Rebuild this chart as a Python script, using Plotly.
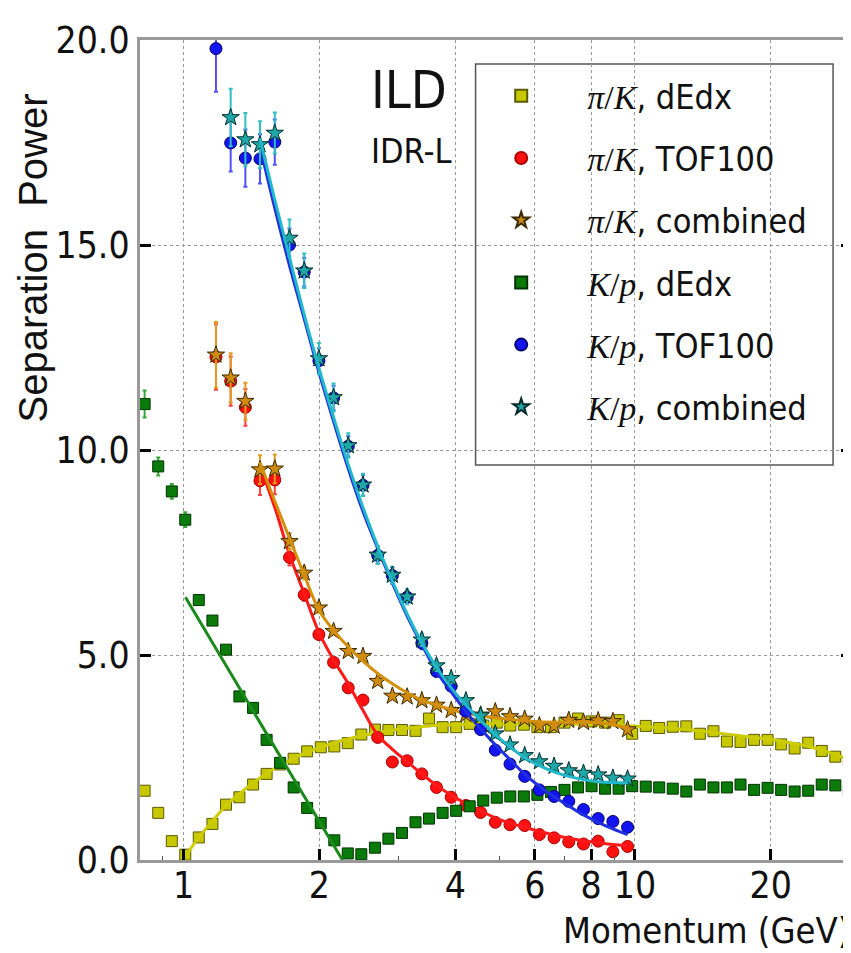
import plotly.graph_objects as go

# ---------------- data ----------------
# momentum bin centres (GeV) of the dE/dx points
p_dedx = [0.820, 0.879, 0.942, 1.009, 1.081, 1.159, 1.242, 1.330, 1.426, 1.528,
          1.637, 1.754, 1.879, 2.014, 2.158, 2.312, 2.477, 2.655, 2.844, 3.048,
          3.266, 3.499, 3.750, 4.018, 4.305, 4.613, 4.943, 5.297, 5.675, 6.081,
          6.516, 6.982, 7.482, 8.017, 8.590, 9.204, 9.863, 10.57, 11.32, 12.13,
          13.00, 13.93, 14.93, 15.99, 17.14, 18.37, 19.68, 21.09, 22.59, 24.21,
          25.94, 27.80, 29.79]
# momentum bin centres (GeV) of the TOF / combined points
p_tof = [1.180, 1.272, 1.371, 1.477, 1.593, 1.717, 1.851, 1.995, 2.150, 2.317,
         2.498, 2.693, 2.902, 3.129, 3.373, 3.635, 3.918, 4.223, 4.552, 4.906,
         5.288, 5.700, 6.144, 6.622, 7.137, 7.693, 8.292, 8.937, 9.634]

pik_dedx = [1.69, 1.15, 0.46, 0.13, 0.55, 0.88, 1.35, 1.53, 1.84, 2.10,
            2.33, 2.47, 2.65, 2.75, 2.77, 2.85, 3.06, 3.18, 3.17, 3.17,
            3.15, 3.45, 3.24, 3.24, 3.32, 3.28, 3.35, 3.28, 3.30, 3.24,
            3.24, 3.35, 3.45, 3.38, 3.35, 3.41, 3.08, 3.27, 3.22, 3.25,
            3.26, 3.08, 3.14, 2.89, 2.88, 2.93, 2.93, 2.82, 2.72, 2.86,
            2.66, 2.52, 2.42]
kp_dedx = [11.12, 9.60, 8.99, 8.30, 6.34, 5.84, 5.13, 3.99, 3.71, 2.93,
           2.37, 1.77, 1.27, 0.90, 0.48, 0.16, 0.14, 0.30, 0.52, 0.66,
           0.92, 1.01, 1.15, 1.20, 1.31, 1.45, 1.52, 1.55, 1.55, 1.59,
           1.66, 1.71, 1.77, 1.80, 1.74, 1.74, 1.80, 1.79, 1.77, 1.74,
           1.67, 1.84, 1.77, 1.77, 1.84, 1.71, 1.76, 1.71, 1.67, 1.69,
           1.84, 1.82, 1.69]
kp_dedx_err = [0.33, 0.22, 0.18, 0.18, 0.12, 0.10, 0.08] + [0.05] * 46

pik_tof = [12.27, 11.68, 11.04, 9.25, 9.27, 7.38, 6.47, 5.50, 4.82, 4.20,
           3.90, 2.99, 2.39, 2.42, 2.10, 1.77, 1.53, 1.33, 1.16, 0.92,
           0.86, 0.84, 0.62, 0.54, 0.44, 0.39, 0.46, 0.20, 0.33]
pik_tof_err = [0.80, 0.60, 0.45, 0.35, 0.35, 0.20, 0.15, 0.12] + [0.08] * 21
pik_comb = [12.32, 11.76, 11.19, 9.52, 9.54, 7.77, 7.00, 6.15, 5.58, 5.09,
            4.97, 4.36, 4.00, 3.98, 3.89, 3.78, 3.65, 3.55, 3.54, 3.62,
            3.50, 3.44, 3.28, 3.27, 3.41, 3.36, 3.40, 3.38, 3.18]
pik_comb_err = [0.80, 0.60, 0.45, 0.35, 0.35, 0.20, 0.15, 0.12] + [0.08] * 21
kp_tof = [19.79, 17.49, 17.12, 17.10, 17.51, 15.00, 14.34, 12.18, 11.27, 10.09,
          9.14, 7.43, 6.94, 6.41, 5.29, 4.60, 4.24, 3.63, 3.18, 2.68,
          2.34, 2.04, 1.71, 1.55, 1.43, 1.23, 1.01, 0.94, 0.80]
kp_tof_err = [1.05, 0.70, 0.70, 0.60, 0.55, 0.40, 0.35, 0.30, 0.30, 0.25,
              0.25, 0.20, 0.20, 0.15, 0.15, 0.12, 0.12] + [0.10] * 12
kp_comb = [None, 18.11, 17.57, 17.45, 17.73, 15.17, 14.37, 12.23, 11.28, 10.11,
           9.15, 7.44, 6.95, 6.42, 5.37, 4.74, 4.43, 3.89, 3.52, 3.08,
           2.81, 2.55, 2.40, 2.29, 2.18, 2.12, 2.08, 2.00, 1.98]
kp_comb_err = [0.0, 0.70, 0.65, 0.57, 0.50, 0.45, 0.42, 0.38, 0.34, 0.30,
               0.27, 0.22, 0.20, 0.18, 0.15, 0.13, 0.12] + [0.10] * 12

# fitted curves
fit_pik_dedx = [0.08, 0.55, 0.95, 1.33, 1.62, 1.88, 2.11, 2.31, 2.48, 2.63,
                2.75, 2.86, 2.95, 3.03, 3.10, 3.15, 3.20, 3.24, 3.27, 3.29,
                3.30, 3.31, 3.32, 3.32, 3.32, 3.32, 3.32, 3.32, 3.31, 3.31,
                3.30, 3.30, 3.29, 3.27, 3.25, 3.23, 3.21, 3.18, 3.15, 3.11,
                3.07, 3.03, 2.99, 2.95, 2.90, 2.84, 2.77, 2.68, 2.57, 2.45]
fit_kp_dedx_p = [1.01, 1.53, 2.25]
fit_kp_dedx = [6.41, 3.07, 0.0]
fit_pik_tof = [9.60, 8.60, 7.45, 6.50, 5.55, 4.88, 4.30, 3.65, 3.05, 2.70,
               2.40, 2.10, 1.82, 1.58, 1.38, 1.20, 1.03, 0.90, 0.80, 0.70,
               0.61, 0.53, 0.47, 0.42, 0.38, 0.35]
fit_pik_comb = [9.70, 8.75, 7.85, 6.95, 6.10, 5.60, 5.20, 4.85, 4.55, 4.30,
                4.08, 3.90, 3.78, 3.67, 3.58, 3.52, 3.47, 3.43, 3.40, 3.37,
                3.36, 3.36, 3.36, 3.35, 3.30, 3.22]
fit_kp_tof = [17.40, 15.90, 14.50, 13.20, 11.90, 10.70, 9.55, 8.50, 7.60, 6.75,
              5.95, 5.25, 4.60, 4.10, 3.62, 3.20, 2.81, 2.45, 2.09, 1.80,
              1.54, 1.32, 1.10, 0.92, 0.76, 0.62]
fit_kp_comb = [17.60, 16.10, 14.70, 13.30, 12.00, 10.80, 9.65, 8.60, 7.65, 6.80,
               6.00, 5.30, 4.70, 4.20, 3.78, 3.40, 3.06, 2.76, 2.50, 2.30,
               2.15, 2.04, 1.96, 1.91, 1.89, 1.88]

x_ticks = [1, 2, 4, 6, 8, 10, 20]
x_minor = [0.9, 3, 5, 7, 9, 30]
y_ticks = [0, 5, 10, 15, 20]

# ---------------- style ----------------
NARROW = "DejaVu Sans Condensed, Liberation Sans Narrow, Liberation Sans, sans-serif"
SANS = "Liberation Sans, DejaVu Sans, sans-serif"
SERIF = "Liberation Serif, DejaVu Serif, serif"

PIK = '<span style="font-family:%s"><i>π</i>/<i>K</i></span>' % SERIF
KP = '<span style="font-family:%s"><i>K</i>/<i>p</i></span>' % SERIF

fig = go.Figure()


def points(x, y, name, sym, fill, edge, size, err=None, errcol=None):
    tr = go.Scatter(x=x, y=y, mode="markers", name=name, legendgroup=name,
                    marker=dict(symbol=sym, size=size, color=fill,
                                line=dict(color=edge, width=1)))
    if err is not None:
        tr.error_y = dict(type="data", array=err, color=errcol, thickness=2, width=2)
    fig.add_trace(tr)


def fit(x, y, col, width=3):
    fig.add_trace(go.Scatter(x=x, y=y, mode="lines", showlegend=False,
                             line=dict(color=col, width=width, shape="spline"),
                             hoverinfo="skip"))


points(p_dedx, pik_dedx, PIK + ", dEdx", "square", "#c8c800", "#5a5a00", 11)
fit(p_dedx[3:], fit_pik_dedx, "#cccc00")
points(p_tof, pik_tof, PIK + ", TOF100", "circle", "#ff1010", "#aa0000", 12,
       pik_tof_err, "#ff4040")
fit(p_tof[3:], fit_pik_tof, "#ff1a1a")
points(p_tof, pik_comb, PIK + ", combined", "star", "#cf8a12", "#3a2a00", 13,
       pik_comb_err, "#e39a20")
fit(p_tof[3:], fit_pik_comb, "#d4900a")
points(p_dedx, kp_dedx, KP + ", dEdx", "square", "#0a7a0a", "#003300", 11,
       kp_dedx_err, "#33aa33")
fit(fit_kp_dedx_p, fit_kp_dedx, "#1a8a1a")
points(p_tof, kp_tof, KP + ", TOF100", "circle", "#1414f0", "#000070", 12,
       kp_tof_err, "#5050ff")
fit(p_tof[3:], fit_kp_tof, "#2030e0")
points(p_tof, kp_comb, KP + ", combined", "star", "#20a8a8", "#002a2a", 13,
       kp_comb_err, "#30c0c0")
fit(p_tof[3:], fit_kp_comb, "#22b8cc")

fig.update_layout(
    width=851, height=953,
    margin=dict(l=132, r=4, t=32, b=101),
    paper_bgcolor="white", plot_bgcolor="white",
    showlegend=True,
    legend=dict(x=0.4427, y=0.9668, xanchor="left", yanchor="top",
                bgcolor="rgba(0,0,0,0)", borderwidth=0,
                font=dict(family=NARROW, size=34, color="#111111"),
                tracegroupgap=15, itemsizing="constant", itemwidth=122),
    font=dict(family=NARROW, color="#111111"),
    shapes=[dict(type="rect", xref="paper", yref="paper",
                 x0=0.4713, x1=0.9734, y0=0.4817, y1=0.9707,
                 fillcolor="white", line=dict(color="#555555", width=1.5),
                 layer="between")],
)

fig.update_xaxes(
    type="log", range=[-0.0964, 1.481],
    tickvals=x_ticks, ticktext=[str(v) for v in x_ticks],
    tickfont=dict(family=NARROW, size=37, color="#111111"),
    ticklabelstandoff=-9,
    ticks="inside", ticklen=11, tickwidth=3, tickcolor="black",
    showgrid=True, gridcolor="#9a9a9a", griddash="dot", gridwidth=1,
    showline=True, linecolor="#999999", linewidth=3, mirror=True,
    minor=dict(tickvals=x_minor, ticks="inside", ticklen=4, tickwidth=1,
               tickcolor="#555555", showgrid=False),
    zeroline=False,
)
fig.update_yaxes(
    range=[0, 20], tickvals=y_ticks, tickformat=".1f",
    tickfont=dict(family=NARROW, size=37, color="#111111"),
    ticks="inside", ticklen=11, tickwidth=3, tickcolor="black",
    showgrid=True, gridcolor="#9a9a9a", griddash="dot", gridwidth=1,
    showline=True, linecolor="#999999", linewidth=3, mirror="ticks",
    zeroline=False,
)

fig.add_annotation(text="Separation  Power", textangle=-90, showarrow=False,
                   xref="paper", yref="paper", x=-0.1497, y=0.734,
                   xanchor="center", yanchor="middle",
                   font=dict(family=SANS, size=40, color="#111111"))
fig.add_annotation(text="Momentum (GeV)", showarrow=False,
                   xref="paper", yref="paper", x=1.0, y=-0.086,
                   xanchor="right", yanchor="middle",
                   font=dict(family=NARROW, size=36, color="#111111"))
fig.add_annotation(text="ILD", showarrow=False, xref="paper", yref="paper",
                   x=0.3217, y=0.939, xanchor="left", yanchor="middle",
                   font=dict(family=NARROW, size=52, color="#111111"))
fig.add_annotation(text="IDR-L", showarrow=False, xref="paper", yref="paper",
                   x=0.3217, y=0.865, xanchor="left", yanchor="middle",
                   font=dict(family=NARROW, size=34, color="#111111"))

fig.write_html("out.html")
